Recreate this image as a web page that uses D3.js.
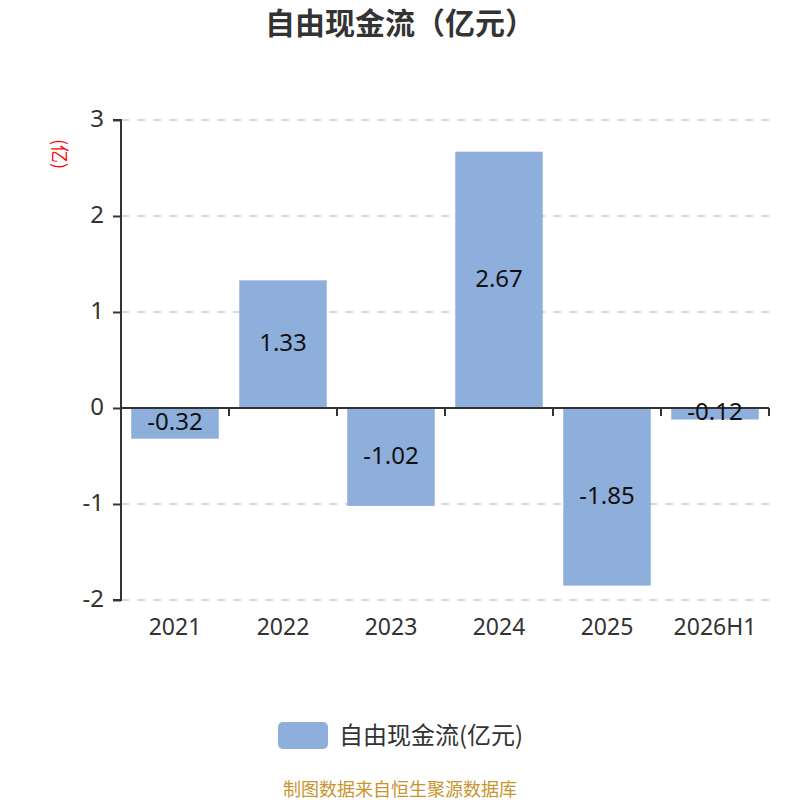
<!DOCTYPE html>
<html>
<head>
<meta charset="utf-8">
<script src="https://cdn.jsdelivr.net/npm/d3@7"></script>
<style>
  body { margin: 0; background: #fff; }
  svg { display: block; font-family: "Noto Sans CJK SC", "Noto Sans", sans-serif; }
</style>
</head>
<body>
<div id="chart"></div>
<script>
// data
const years = ["2021", "2022", "2023", "2024", "2025", "2026H1"];
const cashFlow = [-0.32, 1.33, -1.02, 2.67, -1.85, -0.12];
const yTicks = [-2, -1, 0, 1, 2, 3];

const width = 800, height = 800;
const plotLeft = 121, plotRight = 769, plotTop = 120, plotBottom = 600;
const numFont = "'Noto Sans', sans-serif";

const svg = d3.select("#chart").append("svg")
    .attr("width", width)
    .attr("height", height);

const x = d3.scaleBand()
    .domain(years)
    .range([plotLeft, plotRight])
    .paddingInner(0.19)
    .paddingOuter(0.095);

const y = d3.scaleLinear()
    .domain([-2, 3])
    .range([plotBottom, plotTop]);

// title
svg.append("text")
    .attr("x", width / 2)
    .attr("y", 34)
    .attr("text-anchor", "middle")
    .attr("font-size", 30)
    .attr("font-weight", "bold")
    .attr("fill", "#333")
    .text("自由现金流（亿元）");

// unit label
svg.append("text")
    .attr("transform", `translate(53,154) rotate(90)`)
    .attr("text-anchor", "middle")
    .attr("font-size", 18)
    .attr("fill", "#ff0000")
    .text("(亿)");

// grid lines
svg.append("g")
    .selectAll("line")
    .data(yTicks.filter(d => d !== 0))
    .join("line")
    .attr("x1", plotLeft)
    .attr("x2", plotRight)
    .attr("y1", d => y(d))
    .attr("y2", d => y(d))
    .attr("stroke", "#ccc")
    .attr("stroke-width", 1.5)
    .attr("stroke-dasharray", "8,8");

// bars
svg.append("g")
    .selectAll("rect")
    .data(cashFlow)
    .join("rect")
    .attr("x", (d, i) => x(years[i]))
    .attr("width", x.bandwidth())
    .attr("y", d => y(Math.max(0, d)))
    .attr("height", d => Math.abs(y(d) - y(0)))
    .attr("fill", "#8eaedb");

// y axis
const yAxis = svg.append("g")
    .attr("transform", `translate(${plotLeft},0)`)
    .call(d3.axisLeft(y).tickValues(yTicks).tickSize(8).tickPadding(9).tickFormat(d3.format("d")));
yAxis.select(".domain").attr("stroke", "#333").attr("stroke-width", 2).attr("d", `M-8,${plotTop}H0V${plotBottom}H-8`);
yAxis.selectAll(".tick line").attr("stroke", "#333").attr("stroke-width", 2);
yAxis.selectAll(".tick text")
    .attr("font-size", 24)
    .attr("fill", "#333")
    .attr("font-family", numFont)
    .attr("dy", "0.26em")
    .text(d => String(d).replace("−", "-"));

// x axis on zero line, ticks at band edges
const xg = svg.append("g");
xg.append("line")
    .attr("x1", plotLeft)
    .attr("x2", plotRight)
    .attr("y1", y(0))
    .attr("y2", y(0))
    .attr("stroke", "#333")
    .attr("stroke-width", 2);
const edges = years.map(c => x(c) - x.step() * x.paddingInner() / 2).concat([plotRight]);
xg.selectAll("line.tk")
    .data(edges)
    .join("line")
    .attr("class", "tk")
    .attr("x1", d => d)
    .attr("x2", d => d)
    .attr("y1", y(0))
    .attr("y2", y(0) + 8)
    .attr("stroke", "#333")
    .attr("stroke-width", 2);

// category labels
svg.append("g")
    .selectAll("text")
    .data(years)
    .join("text")
    .attr("x", d => x(d) + x.bandwidth() / 2)
    .attr("y", 627)
    .attr("dy", "0.35em")
    .attr("text-anchor", "middle")
    .attr("font-size", 23)
    .attr("font-family", numFont)
    .attr("fill", "#333")
    .text(d => d);

// value labels
svg.append("g")
    .selectAll("text")
    .data(cashFlow)
    .join("text")
    .attr("x", (d, i) => x(years[i]) + x.bandwidth() / 2)
    .attr("y", d => (y(d) + y(0)) / 2)
    .attr("dy", "0.28em")
    .attr("text-anchor", "middle")
    .attr("font-size", 24)
    .attr("font-family", numFont)
    .attr("fill", "#111")
    .text(d => d.toFixed(2));

// legend
svg.append("rect")
    .attr("x", 278)
    .attr("y", 722)
    .attr("width", 50)
    .attr("height", 27)
    .attr("rx", 5)
    .attr("fill", "#8eaedb");
svg.append("text")
    .attr("x", 339)
    .attr("y", 744)
    .attr("font-size", 24)
    .attr("fill", "#333")
    .text("自由现金流(亿元)");

// source
svg.append("text")
    .attr("x", width / 2)
    .attr("y", 796)
    .attr("text-anchor", "middle")
    .attr("font-size", 18)
    .attr("fill", "#c8942e")
    .text("制图数据来自恒生聚源数据库");
</script>
</body>
</html>
